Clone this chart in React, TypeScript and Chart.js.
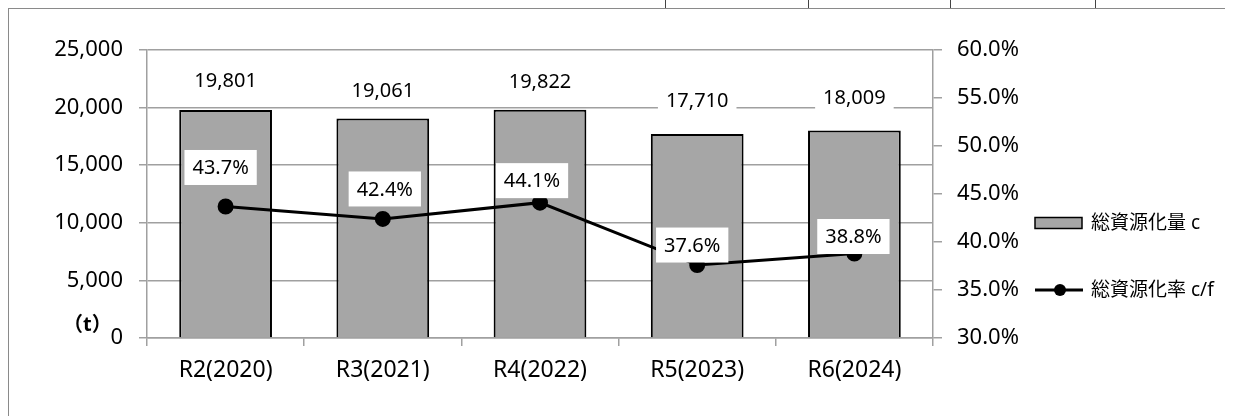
import React, { useEffect, useRef } from "react";
import { Chart, registerables } from "chart.js";

Chart.register(...registerables);

// ---- data ----
const categories = ["R2(2020)", "R3(2021)", "R4(2022)", "R5(2023)", "R6(2024)"];
const amountValues = [19801, 19061, 19822, 17710, 18009]; // 総資源化量 (t)
const rateValues = [43.7, 42.4, 44.1, 37.6, 38.8]; // 総資源化率 (%)
const amountName = "総資源化量 c";
const rateName = "総資源化率 c/f";
const unitLabel = "（t）";

// ---- label placement (px, relative to the mark) ----
const amountLabelLift = [30, 28, 28, 34, 33];
const rateLabelDx = [-5, 2, -8, -5, -1];
const rateLabelDy = [-39, -30, -22, -20, -17];

const FONT = "'Noto Sans', 'Noto Sans CJK JP', sans-serif";
const GRID = "#a0a0a0";
const BAR_FILL = "#a6a6a6";

const labelPlugin = {
  id: "valueLabels",
  afterDatasetsDraw(chart: any) {
    const ctx = chart.ctx;
    ctx.save();
    ctx.font = `20px ${FONT}`;
    ctx.textAlign = "center";
    ctx.textBaseline = "middle";
    const drawBox = (text: string, x: number, y: number, padX: number, h: number) => {
      const w = ctx.measureText(text).width + padX * 2;
      ctx.fillStyle = "#fff";
      ctx.fillRect(x - w / 2, y - h / 2, w, h);
      ctx.fillStyle = "#000";
      ctx.fillText(text, x, y + 1);
    };
    const barMeta = chart.getDatasetMeta(0);
    barMeta.data.forEach((el: any, i: number) => {
      drawBox(amountValues[i].toLocaleString("en-US"), el.x, el.y - amountLabelLift[i], 8, 30);
    });
    const lineMeta = chart.getDatasetMeta(1);
    lineMeta.data.forEach((el: any, i: number) => {
      drawBox(rateValues[i].toFixed(1) + "%", el.x + rateLabelDx[i], el.y + rateLabelDy[i], 8, 35);
    });
    ctx.restore();
  },
};

const extrasPlugin = {
  id: "legendAndUnit",
  afterDraw(chart: any) {
    const ctx = chart.ctx;
    const area = chart.chartArea;
    const yScale = chart.scales.y;
    ctx.save();
    // unit next to the zero tick
    ctx.font = `bold 20px ${FONT}`;
    ctx.fillStyle = "#000";
    ctx.textAlign = "left";
    ctx.textBaseline = "middle";
    ctx.fillText(unitLabel, 54, yScale.getPixelForValue(0) - 13);

    // legend
    const lx = area.right + 102;
    const tx = lx + 56;
    const y1 = 214;
    const y2 = 281;
    ctx.fillStyle = BAR_FILL;
    ctx.fillRect(lx, y1 - 5.5, 47, 11);
    ctx.strokeStyle = "#000";
    ctx.lineWidth = 1.5;
    ctx.strokeRect(lx, y1 - 5.5, 47, 11);

    ctx.beginPath();
    ctx.moveTo(lx, y2);
    ctx.lineTo(lx + 48, y2);
    ctx.lineWidth = 3;
    ctx.stroke();
    ctx.beginPath();
    ctx.arc(lx + 25, y2, 6, 0, Math.PI * 2);
    ctx.fillStyle = "#000";
    ctx.fill();

    ctx.font = `19px ${FONT}`;
    ctx.fillStyle = "#000";
    ctx.fillText(amountName, tx, y1 + 1);
    ctx.fillText(rateName, tx, y2 + 1);
    ctx.restore();
  },
};

export default function App() {
  const canvasRef = useRef<HTMLCanvasElement | null>(null);

  useEffect(() => {
    const canvas = canvasRef.current;
    if (!canvas) return;
    const axisFont = { family: FONT, size: 22 };
    const chart = new Chart(canvas, {
      type: "bar",
      data: {
        labels: categories,
        datasets: [
          {
            type: "bar",
            label: amountName,
            data: amountValues,
            yAxisID: "y",
            backgroundColor: BAR_FILL,
            borderColor: "#000",
            borderWidth: 2,
            barPercentage: 0.59,
            categoryPercentage: 1,
            order: 2,
          },
          {
            type: "line",
            label: rateName,
            data: rateValues,
            yAxisID: "y1",
            borderColor: "#000",
            backgroundColor: "#000",
            borderWidth: 3,
            pointRadius: 6.5,
            pointBackgroundColor: "#000",
            pointBorderColor: "#000",
            tension: 0,
            order: 1,
          },
        ] as any,
      },
      options: {
        responsive: false,
        animation: false,
        layout: { padding: { top: 41, left: 0, right: 0, bottom: 0 } },
        plugins: { legend: { display: false }, tooltip: { enabled: false } },
        scales: {
          x: {
            offset: true,
            grid: { offset: true, drawOnChartArea: false, drawTicks: true, tickLength: 8, color: GRID, lineWidth: 1.5 },
            border: { color: GRID, width: 1.5 },
            ticks: { font: { family: FONT, size: 23 }, color: "#000", padding: 11, maxRotation: 0 },
            afterFit(scale: any) {
              scale.height = 81;
            },
          },
          y: {
            position: "left",
            min: 0,
            max: 25000,
            ticks: {
              stepSize: 5000,
              font: axisFont,
              color: "#000",
              padding: 16,
              callback: (v: any) => Number(v).toLocaleString("en-US"),
            },
            grid: { color: GRID, lineWidth: 1.5, tickLength: 8 },
            border: { color: GRID, width: 1.5 },
            afterFit(scale: any) {
              scale.width = 138;
            },
          },
          y1: {
            position: "right",
            min: 30,
            max: 60,
            ticks: {
              stepSize: 5,
              font: axisFont,
              color: "#000",
              padding: 15,
              callback: (v: any) => Number(v).toFixed(1) + "%",
            },
            grid: { drawOnChartArea: false, color: GRID, lineWidth: 1.5, tickLength: 9 },
            border: { color: GRID, width: 1.5 },
            afterFit(scale: any) {
              scale.width = 301;
            },
          },
        },
      } as any,
      plugins: [labelPlugin, extrasPlugin],
    });
    return () => chart.destroy();
  }, []);

  const topTicks = [665, 808, 950, 1095];

  return (
    <>
      <style>{"body{overflow:hidden}"}</style>
      {topTicks.map((x) => (
        <div
          key={x}
          style={{ position: "absolute", left: x, top: 0, width: 1, height: 8, background: "#444" }}
        />
      ))}
      <div
        style={{
          position: "relative",
          width: 1225,
          height: 412,
          border: "1px solid #8a8a8a",
        }}
      >
        <canvas ref={canvasRef} width={1225} height={410} style={{ display: "block" }} />
      </div>
    </>
  );
}
